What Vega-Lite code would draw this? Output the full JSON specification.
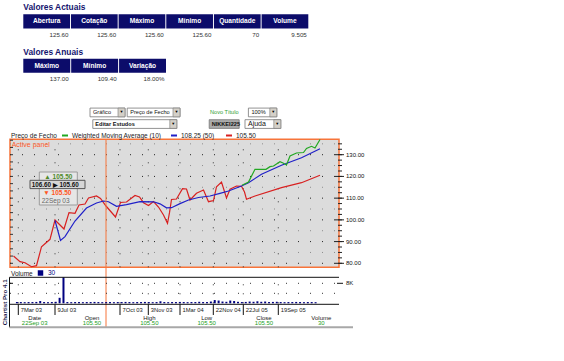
{
"$schema":"https://vega.github.io/schema/vega-lite/v6.json",
"width":564,"height":361,"autosize":"none","padding":0,"background":"white",
"config":{"view":{"stroke":null},"font":"Liberation Sans","text":{"font":"Liberation Sans"}},
"datasets":{
"t1":[{"col":"Abertura","val":"125.60"},{"col":"Cotação","val":"125.60"},{"col":"Máximo","val":"125.60"},{"col":"Mínimo","val":"125.60"},{"col":"Quantidade","val":"70"},{"col":"Volume","val":"9.505"}],
"t2":[{"col":"Máximo","val":"137.00"},{"col":"Mínimo","val":"109.40"},{"col":"Variação","val":"18.00%"}],
"ctl":[{"label":"Gráfico","kind":"select","from":0,"to":8.75,"btn":7,"line":"a"},{"label":"Preço de Fecho","kind":"select","from":9.3,"to":22.5,"btn":20.75,"line":"a"},{"label":"Editar Estudos","kind":"select","from":0.7,"to":21.7,"btn":19.95,"line":"b"},{"label":"Novo Título","kind":"link","from":30,"to":37,"btn":37,"line":"a"},{"label":"NIKKEI225","kind":"button","from":29.8,"to":37.3,"btn":37.3,"line":"b"},{"label":"100%","kind":"select","from":39.6,"to":46.7,"btn":44.95,"line":"a"},{"label":"Ajuda","kind":"select","from":38.75,"to":47.7,"btn":45.95,"line":"b"}],
"dates":[{"t":16.6,"d":"7Mar 03"},{"t":90,"d":"9Jul 03"},{"t":220,"d":"7Oct 03"},{"t":276.6,"d":"3Nov 03"},{"t":340,"d":"1Mar 04"},{"t":406.6,"d":"22Nov 04"},{"t":466.6,"d":"22Jul 05"},{"t":536.6,"d":"19Sep 05"}],
"price":[
{"s":"WMA (50)","t":7,"v":83.36},{"s":"WMA (50)","t":20,"v":80.74},{"s":"WMA (50)","t":30,"v":80.28},{"s":"WMA (50)","t":43,"v":78.43},{"s":"WMA (50)","t":53,"v":78.9},{"s":"WMA (50)","t":63,"v":87.64},{"s":"WMA (50)","t":80,"v":91.05},{"s":"WMA (50)","t":90,"v":99.94},{"s":"WMA (50)","t":108,"v":95.79},{"s":"WMA (50)","t":118,"v":103.3},{"s":"WMA (50)","t":130,"v":103.02},{"s":"WMA (50)","t":138,"v":106.84},{"s":"WMA (50)","t":150,"v":107.3},{"s":"WMA (50)","t":157,"v":110.06},{"s":"WMA (50)","t":173,"v":110.99},{"s":"WMA (50)","t":181,"v":109.83},{"s":"WMA (50)","t":192,"v":106.38},{"s":"WMA (50)","t":211,"v":101.32},{"s":"WMA (50)","t":221,"v":107.99},{"s":"WMA (50)","t":233,"v":108.22},{"s":"WMA (50)","t":250,"v":111.22},{"s":"WMA (50)","t":259,"v":110.52},{"s":"WMA (50)","t":267,"v":107.9},{"s":"WMA (50)","t":277,"v":106.61},{"s":"WMA (50)","t":287,"v":108.45},{"s":"WMA (50)","t":297,"v":105.92},{"s":"WMA (50)","t":307,"v":102.24},{"s":"WMA (50)","t":315,"v":98.42},{"s":"WMA (50)","t":319,"v":103.3},{"s":"WMA (50)","t":323,"v":109.37},{"s":"WMA (50)","t":333,"v":109.6},{"s":"WMA (50)","t":345,"v":114.35},{"s":"WMA (50)","t":353,"v":114.21},{"s":"WMA (50)","t":360,"v":109.14},{"s":"WMA (50)","t":373,"v":112.23},{"s":"WMA (50)","t":387,"v":113.75},{"s":"WMA (50)","t":397,"v":108.36},{"s":"WMA (50)","t":407,"v":108.91},{"s":"WMA (50)","t":413,"v":115.27},{"s":"WMA (50)","t":423,"v":117.43},{"s":"WMA (50)","t":433,"v":110.06},{"s":"WMA (50)","t":440,"v":114.07},{"s":"WMA (50)","t":453,"v":115.59},{"s":"WMA (50)","t":463,"v":115.45},{"s":"WMA (50)","t":469,"v":112.83},{"s":"WMA (50)","t":473,"v":109.47},{"s":"WMA (50)","t":490,"v":110.99},{"s":"WMA (50)","t":543,"v":114.81},{"s":"WMA (50)","t":583,"v":117.11},{"s":"WMA (50)","t":620,"v":120.52},
{"s":"WMA (10)","t":90,"v":99.71},{"s":"WMA (10)","t":101,"v":90.5},{"s":"WMA (10)","t":110,"v":92.25},{"s":"WMA (10)","t":130,"v":99.48},{"s":"WMA (10)","t":153,"v":105.46},{"s":"WMA (10)","t":173,"v":107.76},{"s":"WMA (10)","t":187,"v":108.68},{"s":"WMA (10)","t":197,"v":108.36},{"s":"WMA (10)","t":213,"v":106.24},{"s":"WMA (10)","t":233,"v":107.03},{"s":"WMA (10)","t":260,"v":108.36},{"s":"WMA (10)","t":287,"v":108.32},{"s":"WMA (10)","t":300,"v":107.39},{"s":"WMA (10)","t":313,"v":105.55},{"s":"WMA (10)","t":323,"v":105.6},{"s":"WMA (10)","t":340,"v":107.49},{"s":"WMA (10)","t":357,"v":109.14},{"s":"WMA (10)","t":377,"v":110.29},{"s":"WMA (10)","t":400,"v":110.99},{"s":"WMA (10)","t":420,"v":112.23},{"s":"WMA (10)","t":437,"v":113.29},{"s":"WMA (10)","t":463,"v":115.59},{"s":"WMA (10)","t":477,"v":117.11},{"s":"WMA (10)","t":503,"v":120.98},{"s":"WMA (10)","t":543,"v":125.12},{"s":"WMA (10)","t":583,"v":128.62},{"s":"WMA (10)","t":620,"v":132.76},
{"s":"Preço de Fecho","t":464,"v":115.91},{"s":"Preço de Fecho","t":477,"v":117.43},{"s":"Preço de Fecho","t":490,"v":123.28},{"s":"Preço de Fecho","t":512,"v":123.28},{"s":"Preço de Fecho","t":520,"v":124.48},{"s":"Preço de Fecho","t":527,"v":124.8},{"s":"Preço de Fecho","t":540,"v":126.78},{"s":"Preço de Fecho","t":546,"v":126.18},{"s":"Preço de Fecho","t":553,"v":125.26},{"s":"Preço de Fecho","t":560,"v":129.4},{"s":"Preço de Fecho","t":573,"v":130.78},{"s":"Preço de Fecho","t":587,"v":131.01},{"s":"Preço de Fecho","t":593,"v":132.85},{"s":"Preço de Fecho","t":603,"v":133.87},{"s":"Preço de Fecho","t":610,"v":133.08},{"s":"Preço de Fecho","t":620,"v":137.0}],
"vol":[{"t":4,"v":500},{"t":12,"v":500},{"t":20,"v":450},{"t":28,"v":500},{"t":36,"v":500},{"t":44,"v":550},{"t":52,"v":900},{"t":60,"v":500},{"t":68,"v":450},{"t":76,"v":500},{"t":84,"v":600},{"t":92,"v":2200},{"t":100,"v":10400},{"t":108,"v":500},{"t":116,"v":450},{"t":124,"v":500},{"t":132,"v":500},{"t":140,"v":450},{"t":148,"v":500},{"t":156,"v":500},{"t":164,"v":550},{"t":172,"v":500},{"t":180,"v":450},{"t":188,"v":500},{"t":196,"v":500},{"t":204,"v":450},{"t":212,"v":500},{"t":220,"v":500},{"t":228,"v":550},{"t":236,"v":500},{"t":244,"v":450},{"t":252,"v":500},{"t":260,"v":500},{"t":268,"v":550},{"t":276,"v":500},{"t":284,"v":450},{"t":292,"v":500},{"t":300,"v":800},{"t":308,"v":500},{"t":316,"v":450},{"t":324,"v":500},{"t":332,"v":500},{"t":340,"v":550},{"t":348,"v":500},{"t":356,"v":450},{"t":364,"v":500},{"t":372,"v":500},{"t":380,"v":600},{"t":388,"v":500},{"t":396,"v":500},{"t":404,"v":700},{"t":412,"v":1300},{"t":420,"v":1100},{"t":428,"v":700},{"t":436,"v":600},{"t":444,"v":1100},{"t":452,"v":900},{"t":460,"v":600},{"t":468,"v":500},{"t":476,"v":550},{"t":484,"v":700},{"t":492,"v":600},{"t":500,"v":800},{"t":508,"v":600},{"t":516,"v":700},{"t":524,"v":500},{"t":532,"v":550},{"t":540,"v":600},{"t":548,"v":500},{"t":556,"v":450},{"t":564,"v":500},{"t":572,"v":500},{"t":580,"v":550},{"t":588,"v":500},{"t":596,"v":450},{"t":604,"v":500},{"t":612,"v":500},{"t":620,"v":450}],
"info":[{"k":"Date","val":"22Sep 03"},{"k":"Open","val":"105.50"},{"k":"High","val":"105.50"},{"k":"Low","val":"105.50"},{"k":"Close","val":"105.50"},{"k":"Volume","val":"30"}]
},
"resolve":{"scale":{"x":"independent","y":"independent","color":"independent"}},
"layer":[
{"data":{"values":[{"title":"Valores Actuais"}]},"mark":{"type":"text","align":"left","baseline":"middle","fontSize":8.4,"fontWeight":"bold","color":"#14146e"},
 "encoding":{"x":{"datum":"Abertura","type":"nominal","bandPosition":0,"scale":{"type":"band","domain":["Abertura","Cotação","Máximo","Mínimo","Quantidade","Volume"],"range":[23.3,308.3],"paddingInner":0.02,"paddingOuter":0},"axis":null},
 "y":{"datum":"title","type":"nominal","scale":{"type":"band","domain":["title","header","value"],"range":[0,42.6],"paddingInner":0,"paddingOuter":0},"axis":null},"text":{"field":"title"}}},
{"data":{"name":"t1"},"mark":{"type":"rect","color":"#0c0c6a"},
 "encoding":{"x":{"field":"col","type":"nominal","scale":{"type":"band","domain":["Abertura","Cotação","Máximo","Mínimo","Quantidade","Volume"],"range":[23.3,308.3],"paddingInner":0.02,"paddingOuter":0},"axis":null},
 "y":{"datum":"header","type":"nominal","scale":{"type":"band","domain":["title","header","value"],"range":[0,42.6],"paddingInner":0,"paddingOuter":0},"axis":null}}},
{"data":{"name":"t1"},"mark":{"type":"text","color":"white","fontWeight":"bold","fontSize":6.6,"baseline":"middle"},
 "encoding":{"x":{"field":"col","type":"nominal","scale":{"type":"band","domain":["Abertura","Cotação","Máximo","Mínimo","Quantidade","Volume"],"range":[23.3,308.3],"paddingInner":0.02,"paddingOuter":0},"axis":null},
 "y":{"datum":"header","type":"nominal","scale":{"type":"band","domain":["title","header","value"],"range":[0,42.6],"paddingInner":0,"paddingOuter":0},"axis":null},"text":{"field":"col"}}},
{"data":{"name":"t1"},"mark":{"type":"text","color":"#333","fontSize":6.2,"align":"right","baseline":"middle","dx":-1.5,"dy":-1},
 "encoding":{"x":{"field":"col","type":"nominal","bandPosition":1,"scale":{"type":"band","domain":["Abertura","Cotação","Máximo","Mínimo","Quantidade","Volume"],"range":[23.3,308.3],"paddingInner":0.02,"paddingOuter":0},"axis":null},
 "y":{"datum":"value","type":"nominal","scale":{"type":"band","domain":["title","header","value"],"range":[0,42.6],"paddingInner":0,"paddingOuter":0},"axis":null},"text":{"field":"val"}}},
{"data":{"values":[{"title":"Valores Anuais"}]},"mark":{"type":"text","align":"left","baseline":"middle","fontSize":8.4,"fontWeight":"bold","color":"#14146e"},
 "encoding":{"x":{"datum":"Máximo","type":"nominal","bandPosition":0,"scale":{"type":"band","domain":["Máximo","Mínimo","Variação"],"range":[23.3,166],"paddingInner":0.02,"paddingOuter":0},"axis":null},
 "y":{"datum":"title","type":"nominal","scale":{"type":"band","domain":["title","header","value"],"range":[44.5,87],"paddingInner":0,"paddingOuter":0},"axis":null},"text":{"field":"title"}}},
{"data":{"name":"t2"},"mark":{"type":"rect","color":"#0c0c6a"},
 "encoding":{"x":{"field":"col","type":"nominal","scale":{"type":"band","domain":["Máximo","Mínimo","Variação"],"range":[23.3,166],"paddingInner":0.02,"paddingOuter":0},"axis":null},
 "y":{"datum":"header","type":"nominal","scale":{"type":"band","domain":["title","header","value"],"range":[44.5,87],"paddingInner":0,"paddingOuter":0},"axis":null}}},
{"data":{"name":"t2"},"mark":{"type":"text","color":"white","fontWeight":"bold","fontSize":6.6,"baseline":"middle"},
 "encoding":{"x":{"field":"col","type":"nominal","scale":{"type":"band","domain":["Máximo","Mínimo","Variação"],"range":[23.3,166],"paddingInner":0.02,"paddingOuter":0},"axis":null},
 "y":{"datum":"header","type":"nominal","scale":{"type":"band","domain":["title","header","value"],"range":[44.5,87],"paddingInner":0,"paddingOuter":0},"axis":null},"text":{"field":"col"}}},
{"data":{"name":"t2"},"mark":{"type":"text","color":"#333","fontSize":6.2,"align":"right","baseline":"middle","dx":-1.5,"dy":-1},
 "encoding":{"x":{"field":"col","type":"nominal","bandPosition":1,"scale":{"type":"band","domain":["Máximo","Mínimo","Variação"],"range":[23.3,166],"paddingInner":0.02,"paddingOuter":0},"axis":null},
 "y":{"datum":"value","type":"nominal","scale":{"type":"band","domain":["title","header","value"],"range":[44.5,87],"paddingInner":0,"paddingOuter":0},"axis":null},"text":{"field":"val"}}},
{"data":{"name":"ctl"},"transform":[{"filter":"datum.kind !== 'link'"}],"mark":{"type":"rect","stroke":"#777","strokeWidth":0.8},
 "encoding":{"x":{"field":"from","type":"quantitative","scale":{"domain":[0,48],"range":[90,282],"nice":false,"zero":false},"axis":null},"x2":{"field":"to"},
 "y":{"field":"line","type":"nominal","scale":{"type":"band","domain":["a","b"],"range":[107.5,129],"paddingInner":0.25,"paddingOuter":0.05},"axis":null},
 "color":{"condition":{"test":"datum.kind === 'button'","value":"#ababab"},"value":"#ffffff"}}},
{"data":{"name":"ctl"},"transform":[{"filter":"datum.kind === 'select'"}],"mark":{"type":"rect","stroke":"#777","strokeWidth":0.6,"color":"#d4d0c8"},
 "encoding":{"x":{"field":"btn","type":"quantitative","scale":{"domain":[0,48],"range":[90,282],"nice":false,"zero":false},"axis":null},"x2":{"field":"to"},
 "y":{"field":"line","type":"nominal","scale":{"type":"band","domain":["a","b"],"range":[107.5,129],"paddingInner":0.25,"paddingOuter":0.05},"axis":null}}},
{"data":{"name":"ctl"},"transform":[{"filter":"datum.kind === 'select'"}],"mark":{"type":"text","text":"▼","fontSize":4,"color":"#000","align":"center","baseline":"middle","dx":-3.5},
 "encoding":{"x":{"field":"to","type":"quantitative","scale":{"domain":[0,48],"range":[90,282],"nice":false,"zero":false},"axis":null},
 "y":{"field":"line","type":"nominal","scale":{"type":"band","domain":["a","b"],"range":[107.5,129],"paddingInner":0.25,"paddingOuter":0.05},"axis":null}}},
{"data":{"name":"ctl"},"transform":[{"filter":"datum.label === 'Gráfico' || datum.label === 'Preço de Fecho' || datum.label === '100%' || datum.label === 'Ajuda'"}],"mark":{"type":"text","align":"left","baseline":"middle","dx":3,"color":"#111"},
 "encoding":{"x":{"field":"from","type":"quantitative","scale":{"domain":[0,48],"range":[90,282],"nice":false,"zero":false},"axis":null},
 "y":{"field":"line","type":"nominal","scale":{"type":"band","domain":["a","b"],"range":[107.5,129],"paddingInner":0.25,"paddingOuter":0.05},"axis":null},
 "text":{"field":"label"},"size":{"condition":{"test":"datum.label === 'Ajuda'","value":7},"value":5.6}}},
{"data":{"name":"ctl"},"transform":[{"filter":"datum.label === 'Editar Estudos' || datum.label === 'NIKKEI225'"}],"mark":{"type":"text","align":"left","baseline":"middle","dx":2.5,"fontSize":5.6,"fontWeight":"bold","color":"#111"},
 "encoding":{"x":{"field":"from","type":"quantitative","scale":{"domain":[0,48],"range":[90,282],"nice":false,"zero":false},"axis":null},
 "y":{"field":"line","type":"nominal","scale":{"type":"band","domain":["a","b"],"range":[107.5,129],"paddingInner":0.25,"paddingOuter":0.05},"axis":null},"text":{"field":"label"}}},
{"data":{"name":"ctl"},"transform":[{"filter":"datum.kind === 'link'"}],"mark":{"type":"text","align":"left","baseline":"middle","fontSize":5.6,"color":"#2e9e2e"},
 "encoding":{"x":{"field":"from","type":"quantitative","scale":{"domain":[0,48],"range":[90,282],"nice":false,"zero":false},"axis":null},
 "y":{"field":"line","type":"nominal","scale":{"type":"band","domain":["a","b"],"range":[107.5,129],"paddingInner":0.25,"paddingOuter":0.05},"axis":null},"text":{"field":"label"}}},
{"data":{"values":[{}]},"mark":{"type":"rect","fill":"#dcdcdc","stroke":"#f7743a","strokeWidth":1.5},
 "encoding":{"x":{"datum":0,"type":"quantitative","scale":{"domain":[0,658],"range":[10,339],"nice":false,"zero":false},"axis":null},"x2":{"datum":658},
 "y":{"datum":78.16,"type":"quantitative","scale":{"domain":[78.16,137.09],"range":[267.3,139.3],"nice":false,"zero":false},"axis":null},"y2":{"datum":137.09}}},
{"data":{"values":[{"v":85},{"v":95},{"v":105},{"v":115},{"v":125},{"v":135}]},"mark":{"type":"rule","color":"#8c8c8c","strokeDash":[1,11]},
 "encoding":{"x":{"datum":0,"type":"quantitative","scale":{"domain":[0,658],"range":[10,339],"nice":false,"zero":false},"axis":null},"x2":{"datum":658},
 "y":{"field":"v","type":"quantitative","scale":{"domain":[78.16,137.09],"range":[267.3,139.3],"nice":false,"zero":false},"axis":null}}},
{"data":{"values":[{"v":80},{"v":90},{"v":100},{"v":110},{"v":120},{"v":130}]},"mark":{"type":"rule","color":"#222","strokeDash":[1,11]},
 "encoding":{"x":{"datum":0,"type":"quantitative","scale":{"domain":[0,658],"range":[10,339],"nice":false,"zero":false},"axis":null},"x2":{"datum":658},
 "y":{"field":"v","type":"quantitative","scale":{"domain":[78.16,137.09],"range":[267.3,139.3],"nice":false,"zero":false},"axis":null}}},
{"data":{"name":"dates"},"mark":{"type":"rule","color":"#333","strokeDash":[1,12]},
 "encoding":{"x":{"field":"t","type":"quantitative","scale":{"domain":[0,658],"range":[10,339],"nice":false,"zero":false},"axis":null},
 "y":{"datum":78.16,"type":"quantitative","scale":{"domain":[78.16,137.09],"range":[267.3,139.3],"nice":false,"zero":false},"axis":null},"y2":{"datum":137.09}}},
{"data":{"values":[{"v":80},{"v":83.33},{"v":86.67},{"v":90},{"v":93.33},{"v":96.67},{"v":100},{"v":103.33},{"v":106.67},{"v":110},{"v":113.33},{"v":116.67},{"v":120},{"v":123.33},{"v":126.67},{"v":130},{"v":133.33},{"v":136.67}]},"mark":{"type":"rule","color":"#333"},
 "encoding":{"x":{"datum":0,"type":"quantitative","scale":{"domain":[0,658],"range":[10,339],"nice":false,"zero":false},"axis":null},"x2":{"datum":6},
 "y":{"field":"v","type":"quantitative","scale":{"domain":[78.16,137.09],"range":[267.3,139.3],"nice":false,"zero":false},"axis":null}}},
{"data":{"values":[{"v":80},{"v":82.5},{"v":85},{"v":87.5},{"v":90},{"v":92.5},{"v":95},{"v":97.5},{"v":100},{"v":102.5},{"v":105},{"v":107.5},{"v":110},{"v":112.5},{"v":115},{"v":117.5},{"v":120},{"v":122.5},{"v":125},{"v":127.5},{"v":130},{"v":132.5},{"v":135}]},"mark":{"type":"rule","color":"#222"},
 "encoding":{"x":{"datum":656,"type":"quantitative","scale":{"domain":[0,658],"range":[10,339],"nice":false,"zero":false},"axis":null},"x2":{"datum":664},
 "y":{"field":"v","type":"quantitative","scale":{"domain":[78.16,137.09],"range":[267.3,139.3],"nice":false,"zero":false},"axis":null}}},
{"data":{"values":[{"v":80},{"v":90},{"v":100},{"v":110},{"v":120},{"v":130}]},"mark":{"type":"rule","color":"#222"},
 "encoding":{"x":{"datum":650,"type":"quantitative","scale":{"domain":[0,658],"range":[10,339],"nice":false,"zero":false},"axis":null},"x2":{"datum":668},
 "y":{"field":"v","type":"quantitative","scale":{"domain":[78.16,137.09],"range":[267.3,139.3],"nice":false,"zero":false},"axis":null}}},
{"data":{"values":[{"v":80},{"v":90},{"v":100},{"v":110},{"v":120},{"v":130}]},"mark":{"type":"text","align":"left","baseline":"middle","dx":7,"fontSize":6,"color":"#111"},
 "encoding":{"x":{"datum":658,"type":"quantitative","scale":{"domain":[0,658],"range":[10,339],"nice":false,"zero":false},"axis":null},
 "y":{"field":"v","type":"quantitative","scale":{"domain":[78.16,137.09],"range":[267.3,139.3],"nice":false,"zero":false},"axis":null},"text":{"field":"v","type":"quantitative","format":".2f"}}},
{"data":{"name":"price"},"mark":{"type":"line","strokeWidth":1.2},
 "encoding":{"x":{"field":"t","type":"quantitative","scale":{"domain":[0,658],"range":[10,339],"nice":false,"zero":false},"axis":null},
 "y":{"field":"v","type":"quantitative","scale":{"domain":[78.16,137.09],"range":[267.3,139.3],"nice":false,"zero":false},"axis":null},
 "color":{"field":"s","type":"nominal","scale":{"domain":["Preço de Fecho","WMA (10)","WMA (50)"],"range":["#22a822","#2020c8","#d82020"]},
  "legend":{"orient":"none","legendX":11,"legendY":131.5,"direction":"horizontal","title":"Preço de Fecho","titleOrient":"left","titleFontSize":6.5,"titleFontWeight":"normal","titleColor":"#222","titlePadding":4,"labelFontSize":6.5,"labelColor":"#222","symbolType":"stroke","symbolStrokeWidth":2,"symbolSize":36,"labelOffset":3,"columnPadding":5,
  "labelExpr":"datum.label === 'Preço de Fecho' ? 'Weighted Moving Average (10)' : datum.label === 'WMA (10)' ? '108.25  (50)' : '105.50'"}}}},
{"data":{"values":[{}]},"mark":{"type":"rule","color":"#f7743a","strokeWidth":1},
 "encoding":{"x":{"datum":192,"type":"quantitative","scale":{"domain":[0,658],"range":[10,339],"nice":false,"zero":false},"axis":null},
 "y":{"datum":137.09,"type":"quantitative","scale":{"domain":[78.16,137.09],"range":[267.3,139.3],"nice":false,"zero":false},"axis":null},"y2":{"datum":50.7}}},
{"data":{"values":[{}]},"mark":{"type":"text","text":"Active panel","align":"left","baseline":"middle","fontSize":7,"color":"#ff5a28"},
 "encoding":{"x":{"datum":3.4,"type":"quantitative","scale":{"domain":[0,658],"range":[10,339],"nice":false,"zero":false},"axis":null},
 "y":{"datum":134.47,"type":"quantitative","scale":{"domain":[78.16,137.09],"range":[267.3,139.3],"nice":false,"zero":false},"axis":null}}},
{"data":{"values":[{}]},"mark":{"type":"rect","fill":"#e6e6e6","stroke":"#9a9a9a","strokeWidth":1},
 "encoding":{"x":{"datum":58.6,"type":"quantitative","scale":{"domain":[0,658],"range":[10,339],"nice":false,"zero":false},"axis":null},"x2":{"datum":134.6},
 "y":{"datum":122.03,"type":"quantitative","scale":{"domain":[78.16,137.09],"range":[267.3,139.3],"nice":false,"zero":false},"axis":null},"y2":{"datum":106.84}}},
{"data":{"values":[{}]},"mark":{"type":"rect","fill":"#d6d6d6","stroke":"#555","strokeWidth":1},
 "encoding":{"x":{"datum":40,"type":"quantitative","scale":{"domain":[0,658],"range":[10,339],"nice":false,"zero":false},"axis":null},"x2":{"datum":150},
 "y":{"datum":118.21,"type":"quantitative","scale":{"domain":[78.16,137.09],"range":[267.3,139.3],"nice":false,"zero":false},"axis":null},"y2":{"datum":114.39}}},
{"data":{"values":[{}]},"mark":{"type":"text","text":"▲ 105.50","align":"left","baseline":"middle","fontSize":6.5,"fontWeight":"bold","color":"#4f8a2a"},
 "encoding":{"x":{"datum":68.6,"type":"quantitative","scale":{"domain":[0,658],"range":[10,339],"nice":false,"zero":false},"axis":null},
 "y":{"datum":119.96,"type":"quantitative","scale":{"domain":[78.16,137.09],"range":[267.3,139.3],"nice":false,"zero":false},"axis":null}}},
{"data":{"values":[{}]},"mark":{"type":"text","text":"106.60 ▶ 105.60","align":"left","baseline":"middle","fontSize":6.3,"fontWeight":"bold","color":"#111"},
 "encoding":{"x":{"datum":43.4,"type":"quantitative","scale":{"domain":[0,658],"range":[10,339],"nice":false,"zero":false},"axis":null},
 "y":{"datum":116.28,"type":"quantitative","scale":{"domain":[78.16,137.09],"range":[267.3,139.3],"nice":false,"zero":false},"axis":null}}},
{"data":{"values":[{}]},"mark":{"type":"text","text":"▼ 105.50","align":"left","baseline":"middle","fontSize":6.5,"fontWeight":"bold","color":"#ff5522"},
 "encoding":{"x":{"datum":66.6,"type":"quantitative","scale":{"domain":[0,658],"range":[10,339],"nice":false,"zero":false},"axis":null},
 "y":{"datum":112.46,"type":"quantitative","scale":{"domain":[78.16,137.09],"range":[267.3,139.3],"nice":false,"zero":false},"axis":null}}},
{"data":{"values":[{}]},"mark":{"type":"text","text":"22Sep 03","align":"left","baseline":"middle","fontSize":6.5,"color":"#666"},
 "encoding":{"x":{"datum":63.4,"type":"quantitative","scale":{"domain":[0,658],"range":[10,339],"nice":false,"zero":false},"axis":null},
 "y":{"datum":108.78,"type":"quantitative","scale":{"domain":[78.16,137.09],"range":[267.3,139.3],"nice":false,"zero":false},"axis":null}}},
{"data":{"values":[{"v":8000},{"v":4000}]},"mark":{"type":"rule","color":"#333","strokeDash":[1,11]},
 "encoding":{"x":{"datum":0,"type":"quantitative","scale":{"domain":[0,658],"range":[10,339],"nice":false,"zero":false},"axis":null},"x2":{"datum":658},
 "y":{"field":"v","type":"quantitative","scale":{"domain":[0,8000],"range":[303.3,283.3],"nice":false,"zero":false},"axis":null}}},
{"data":{"name":"dates"},"mark":{"type":"rule","color":"#333","strokeDash":[1,8]},
 "encoding":{"x":{"field":"t","type":"quantitative","scale":{"domain":[0,658],"range":[10,339],"nice":false,"zero":false},"axis":null},
 "y":{"datum":0,"type":"quantitative","scale":{"domain":[0,8000],"range":[303.3,283.3],"nice":false,"zero":false},"axis":null},"y2":{"datum":10400}}},
{"data":{"name":"vol"},"mark":{"type":"bar","size":2},
 "encoding":{"x":{"field":"t","type":"quantitative","scale":{"domain":[0,658],"range":[10,339],"nice":false,"zero":false},"axis":null},
 "y":{"field":"v","type":"quantitative","scale":{"domain":[0,8000],"range":[303.3,283.3],"nice":false,"zero":false},"axis":null},
 "color":{"datum":"Volume","type":"nominal","scale":{"domain":["Volume"],"range":["#000080"]},
  "legend":{"orient":"none","legendX":11,"legendY":269.5,"direction":"horizontal","title":"Volume","titleOrient":"left","titleFontSize":6.5,"titleFontWeight":"normal","titleColor":"#222","titlePadding":4,"labelFontSize":6.5,"labelColor":"#000080","symbolType":"square","symbolSize":30,"labelOffset":4,"labelExpr":"'30'"}}}},
{"data":{"values":[{"v":10400},{"v":-400}]},"mark":{"type":"rule","color":"#111"},
 "encoding":{"x":{"datum":-1,"type":"quantitative","scale":{"domain":[0,658],"range":[10,339],"nice":false,"zero":false},"axis":null},"x2":{"datum":658},
 "y":{"field":"v","type":"quantitative","scale":{"domain":[0,8000],"range":[303.3,283.3],"nice":false,"zero":false},"axis":null}}},
{"data":{"values":[{}]},"mark":{"type":"rule","color":"#111"},
 "encoding":{"x":{"datum":-1,"type":"quantitative","scale":{"domain":[0,658],"range":[10,339],"nice":false,"zero":false},"axis":null},
 "y":{"datum":10400,"type":"quantitative","scale":{"domain":[0,8000],"range":[303.3,283.3],"nice":false,"zero":false},"axis":null},"y2":{"datum":-9600}}},
{"data":{"values":[{"a":0,"b":6},{"a":654,"b":666}]},"mark":{"type":"rule","color":"#111"},
 "encoding":{"x":{"field":"a","type":"quantitative","scale":{"domain":[0,658],"range":[10,339],"nice":false,"zero":false},"axis":null},"x2":{"field":"b"},
 "y":{"datum":8000,"type":"quantitative","scale":{"domain":[0,8000],"range":[303.3,283.3],"nice":false,"zero":false},"axis":null}}},
{"data":{"values":[{}]},"mark":{"type":"text","text":"8K","align":"left","baseline":"middle","dx":7,"fontSize":6,"color":"#111"},
 "encoding":{"x":{"datum":658,"type":"quantitative","scale":{"domain":[0,658],"range":[10,339],"nice":false,"zero":false},"axis":null},
 "y":{"datum":8000,"type":"quantitative","scale":{"domain":[0,8000],"range":[303.3,283.3],"nice":false,"zero":false},"axis":null}}},
{"data":{"name":"dates"},"mark":{"type":"rule","color":"#111"},
 "encoding":{"x":{"field":"t","type":"quantitative","scale":{"domain":[0,658],"range":[10,339],"nice":false,"zero":false},"axis":null},
 "y":{"datum":-400,"type":"quantitative","scale":{"domain":[0,8000],"range":[303.3,283.3],"nice":false,"zero":false},"axis":null},"y2":{"datum":-4680}}},
{"data":{"name":"dates"},"mark":{"type":"text","align":"left","baseline":"middle","dx":2.5,"fontSize":5.8,"color":"#222"},
 "encoding":{"x":{"field":"t","type":"quantitative","scale":{"domain":[0,658],"range":[10,339],"nice":false,"zero":false},"axis":null},
 "y":{"datum":-2540,"type":"quantitative","scale":{"domain":[0,8000],"range":[303.3,283.3],"nice":false,"zero":false},"axis":null},"text":{"field":"d"}}},
{"data":{"name":"info"},"mark":{"type":"text","baseline":"middle","fontSize":6,"color":"#222"},
 "encoding":{"x":{"field":"k","type":"nominal","scale":{"type":"band","domain":["Date","Open","High","Low","Close","Volume"],"range":[6,350],"paddingInner":0,"paddingOuter":0},"axis":null},
 "y":{"datum":-5680,"type":"quantitative","scale":{"domain":[0,8000],"range":[303.3,283.3],"nice":false,"zero":false},"axis":null},"text":{"field":"k"}}},
{"data":{"name":"info"},"mark":{"type":"text","baseline":"middle","fontSize":6,"color":"#22a022"},
 "encoding":{"x":{"field":"k","type":"nominal","scale":{"type":"band","domain":["Date","Open","High","Low","Close","Volume"],"range":[6,350],"paddingInner":0,"paddingOuter":0},"axis":null},
 "y":{"datum":-8000,"type":"quantitative","scale":{"domain":[0,8000],"range":[303.3,283.3],"nice":false,"zero":false},"axis":null},"text":{"field":"val"}}},
{"data":{"values":[{}]},"mark":{"type":"rule","color":"#a8a8a8","strokeWidth":2},
 "encoding":{"x":{"datum":-1,"type":"quantitative","scale":{"domain":[0,658],"range":[10,339],"nice":false,"zero":false},"axis":null},"x2":{"datum":686},
 "y":{"datum":-9600,"type":"quantitative","scale":{"domain":[0,8000],"range":[303.3,283.3],"nice":false,"zero":false},"axis":null}}},
{"data":{"values":[{}]},"mark":{"type":"text","text":"Chartist Pro 4.1","angle":270,"align":"center","baseline":"middle","fontSize":6.2,"fontWeight":"bold","color":"#1a1a4a"},
 "encoding":{"x":{"datum":-10,"type":"quantitative","scale":{"domain":[0,658],"range":[10,339],"nice":false,"zero":false},"axis":null},
 "y":{"datum":400,"type":"quantitative","scale":{"domain":[0,8000],"range":[303.3,283.3],"nice":false,"zero":false},"axis":null}}}
]
}
